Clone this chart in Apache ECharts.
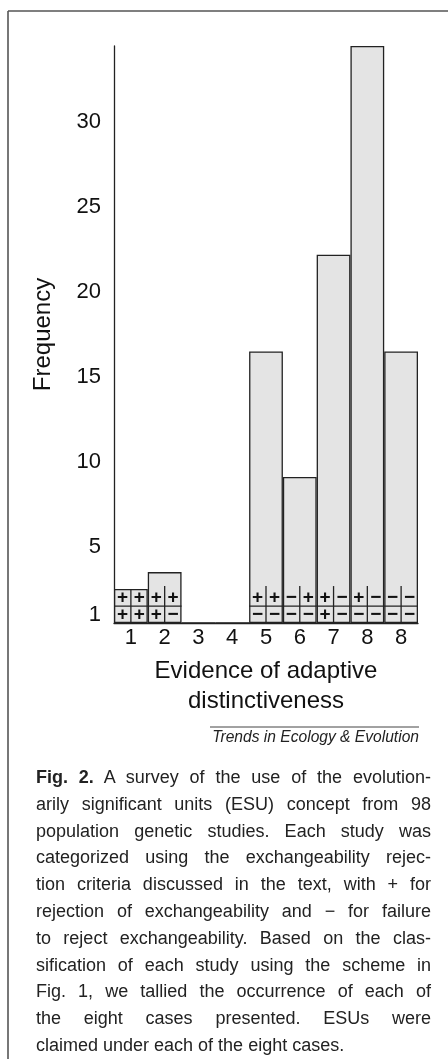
<!DOCTYPE html>
<html><head><meta charset="utf-8">
<script src="https://cdn.jsdelivr.net/npm/echarts@6/dist/echarts.min.js"></script>
<style>
html,body{margin:0;padding:0;background:#fff;}
#chart{position:absolute;left:0;top:0;width:448px;height:1059px;}
#caption{position:absolute;left:36px;top:764px;width:395px;font-family:"Liberation Sans",Arial,sans-serif;font-size:18px;line-height:26.8px;color:#222;}
#caption .j{text-align:justify;text-align-last:justify;white-space:nowrap;}
#caption .l{text-align:left;white-space:nowrap;}
</style>
</head><body>
<div id="chart"></div>
<div id="caption">
<div class="j"><b>Fig. 2.</b> A survey of the use of the evolution-</div>
<div class="j">arily significant units (ESU) concept from 98</div>
<div class="j">population genetic studies. Each study was</div>
<div class="j">categorized using the exchangeability rejec-</div>
<div class="j">tion criteria discussed in the text, with + for</div>
<div class="j">rejection of exchangeability and − for failure</div>
<div class="j">to reject exchangeability. Based on the clas-</div>
<div class="j">sification of each study using the scheme in</div>
<div class="j">Fig. 1, we tallied the occurrence of each of</div>
<div class="j">the eight cases presented. ESUs were</div>
<div class="l">claimed under each of the eight cases.</div>
</div>
<script>
const categories = ['1','2','3','4','5','6','7','8','8'];
const frequency = [2, 3, 0, 0, 16, 8.6, 21.7, 34, 16];
const yTickLabels = [1, 5, 10, 15, 20, 25, 30];
const signsUpper = [['+','+'],['+','+'],null,null,['+','+'],['−','+'],['+','−'],['+','−'],['−','−']];
const signsLower = [['+','+'],['+','−'],null,null,['−','−'],['−','−'],['+','−'],['−','−'],['−','−']];

const FONT = '"Liberation Sans", Arial, sans-serif';
const chart = echarts.init(document.getElementById('chart'), null, {renderer: 'canvas'});

function renderSigns(params, api) {
  const i = api.value(0);
  const up = signsUpper[i], lo = signsLower[i];
  if (!up) return null;
  const p0 = api.coord([i, 0]);
  const w = api.size([1, 0])[0];
  const h = api.size([0, 1])[1];
  const xl = p0[0] - w / 2, xr = p0[0] + w / 2, xm = p0[0];
  const y0 = p0[1], y1 = y0 - h, y2 = y0 - 2 * h;
  const topY = frequency[i] > 2 ? y2 - 3 : y2;
  const ls = {stroke: '#222', lineWidth: 1.3};
  const children = [
    {type: 'line', shape: {x1: xm, y1: y0, x2: xm, y2: topY}, style: ls},
    {type: 'line', shape: {x1: xl, y1: y1, x2: xr, y2: y1}, style: ls}
  ];
  const cells = [[up[0], (xl + xm) / 2, (y1 + y2) / 2], [up[1], (xm + xr) / 2, (y1 + y2) / 2],
                 [lo[0], (xl + xm) / 2, (y0 + y1) / 2], [lo[1], (xm + xr) / 2, (y0 + y1) / 2]];
  cells.forEach(c => {
    children.push({type: 'text', style: {text: c[0], x: c[1], y: c[2] + 0.5, align: 'center', verticalAlign: 'middle',
      font: 'bold 19px ' + FONT, fill: '#111'}});
  });
  return {type: 'group', children};
}

chart.setOption({
  animation: false,
  backgroundColor: '#fff',
  grid: {left: 114, right: 30, top: 46, bottom: 436},
  xAxis: {
    type: 'category', data: categories,
    axisLine: {show: true, lineStyle: {color: '#222', width: 1.3}},
    axisTick: {show: false},
    axisLabel: {fontSize: 22, fontFamily: FONT, color: '#111', margin: 4},
    name: 'Evidence of adaptive\ndistinctiveness',
    nameLocation: 'middle', nameGap: 33,
    nameTextStyle: {fontSize: 24, fontFamily: FONT, color: '#111', lineHeight: 30}
  },
  yAxis: {
    type: 'value', min: 0, max: 34,
    axisLine: {show: true, lineStyle: {color: '#222', width: 1.3}},
    axisTick: {show: false},
    splitLine: {show: false},
    axisLabel: {
      customValues: yTickLabels.map(v => v - 0.5),
      formatter: v => String(Math.round(v + 0.5)),
      fontSize: 22, fontFamily: FONT, color: '#111', margin: 13
    },
    name: 'Frequency', nameLocation: 'middle', nameGap: 59,
    nameTextStyle: {fontSize: 24, fontFamily: FONT, color: '#111'}
  },
  series: [
    {
      type: 'bar', data: frequency, barCategoryGap: 0, barGap: 0,
      itemStyle: {color: '#e4e4e4', borderColor: '#222', borderWidth: 1.3}
    },
    {
      type: 'custom', renderItem: renderSigns,
      data: categories.map((c, i) => [i, 0]),
      encode: {x: 0, y: 1}, z: 5
    }
  ],
  graphic: [
    {type: 'line', shape: {x1: 8, y1: 11, x2: 448, y2: 11}, style: {stroke: '#555', lineWidth: 1.6}},
    {type: 'line', shape: {x1: 8, y1: 11, x2: 8, y2: 1059}, style: {stroke: '#555', lineWidth: 1.6}},
    {type: 'line', shape: {x1: 210, y1: 727, x2: 419, y2: 727}, style: {stroke: '#444', lineWidth: 1}},
    {type: 'text', style: {text: 'Trends in Ecology & Evolution', x: 419, y: 738, align: 'right', verticalAlign: 'middle',
      font: 'italic 15.6px ' + FONT, fill: '#222'}}
  ]
});
</script>
</body></html>
